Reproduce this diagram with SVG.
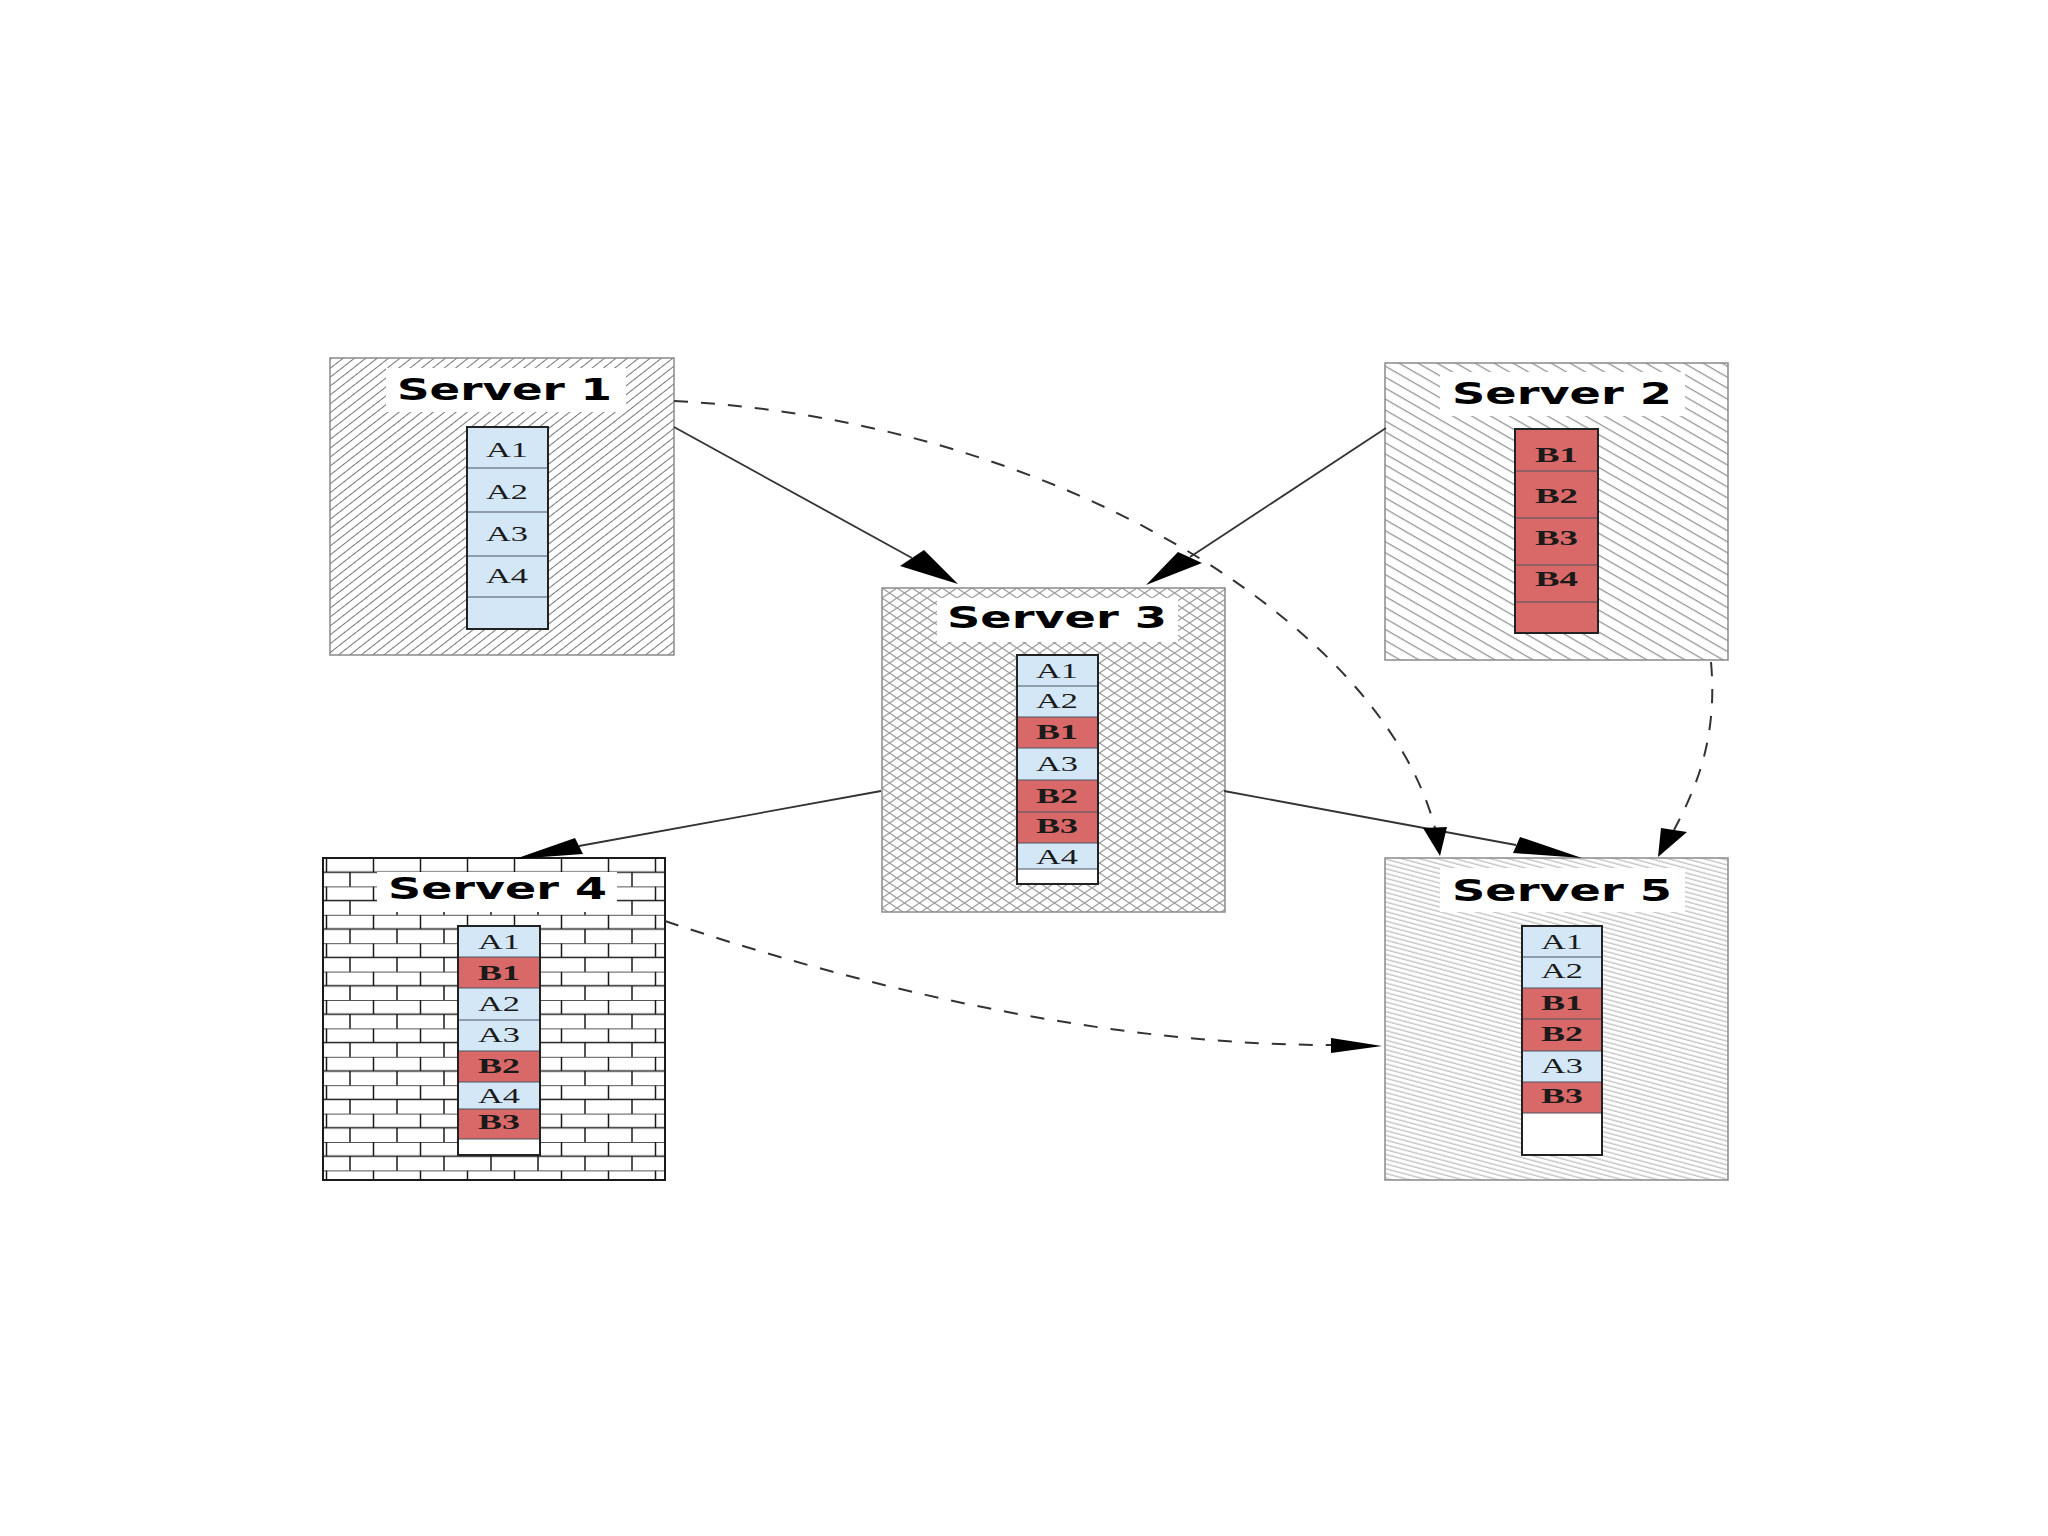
<svg xmlns="http://www.w3.org/2000/svg" width="2048" height="1536" viewBox="0 0 2048 1536">
<style>
.box{stroke:#8a8a8a;stroke-width:1.5}
.tbg{fill:#fff}
.title{font-family:"DejaVu Sans","Liberation Sans",sans-serif;font-weight:bold;font-size:31px;fill:#000}
.a{fill:#d3e7f7}
.b{fill:#d96868}
.e{fill:#fff}
.dv{stroke:#4a5560;stroke-width:1.2}
.stk{fill:none;stroke:#222;stroke-width:2}
.lbl{font-family:"Liberation Serif","Times New Roman",serif;font-size:21px;fill:#1a1a1a}
.lb{font-weight:bold}
.conn{fill:none;stroke:#333;stroke-width:1.8}
.dash{stroke-dasharray:14 13;stroke-width:2}
.ah{fill:#000}
</style>
<defs>
<pattern id="hatch1" width="12" height="7" patternUnits="userSpaceOnUse" patternTransform="rotate(-38)"><line x1="0" y1="3.5" x2="12" y2="3.5" stroke="#777" stroke-width="1"/></pattern>
<pattern id="hatch2" width="12" height="9.5" patternUnits="userSpaceOnUse" patternTransform="rotate(30)"><line x1="0" y1="4.5" x2="12" y2="4.5" stroke="#777" stroke-width="1"/></pattern>
<pattern id="hatch5" width="12" height="4.6" patternUnits="userSpaceOnUse" patternTransform="rotate(15)"><line x1="0" y1="2" x2="12" y2="2" stroke="#a0a0a0" stroke-width="0.9"/></pattern>
<pattern id="cross3" width="15" height="10" patternUnits="userSpaceOnUse" x="882" y="588"><path d="M0,0L15,10M15,0L0,10" stroke="#a0a0a0" stroke-width="1.3" fill="none"/></pattern>
<pattern id="brick4" width="47" height="28.4" patternUnits="userSpaceOnUse" x="350" y="858"><path d="M0,0H47M0,14.2H47M23.5,0V14.2M0,14.2V28.4M47,14.2V28.4" stroke="#1a1a1a" stroke-width="1.5" fill="none"/></pattern>
</defs>
<rect width="2048" height="1536" fill="#fff"/>

<g id="server1">
<rect class="box" x="330" y="358" width="344" height="297" fill="url(#hatch1)"/>
<rect class="tbg" x="386" y="368" width="240" height="44"/>
<text class="title" x="397" y="400" textLength="215" lengthAdjust="spacingAndGlyphs">Server 1</text>
<rect class="a" x="467" y="427" width="81" height="202"/>
<path class="dv" d="M467,468H548M467,512H548M467,556H548M467,597H548"/>
<rect class="stk" x="467" y="427" width="81" height="202"/>
<text class="lbl" x="486" y="457" textLength="42" lengthAdjust="spacingAndGlyphs">A1</text>
<text class="lbl" x="486" y="499" textLength="42" lengthAdjust="spacingAndGlyphs">A2</text>
<text class="lbl" x="486" y="541" textLength="42" lengthAdjust="spacingAndGlyphs">A3</text>
<text class="lbl" x="486" y="583" textLength="42" lengthAdjust="spacingAndGlyphs">A4</text>
</g>

<g id="server2">
<rect class="box" x="1385" y="363" width="343" height="297" fill="url(#hatch2)"/>
<rect class="tbg" x="1440" y="372" width="245" height="44"/>
<text class="title" x="1452" y="404" textLength="220" lengthAdjust="spacingAndGlyphs">Server 2</text>
<rect class="b" x="1515" y="429" width="83" height="204"/>
<path class="dv" d="M1515,471H1598M1515,518H1598M1515,565H1598M1515,602H1598"/>
<rect class="stk" x="1515" y="429" width="83" height="204"/>
<text class="lbl lb" x="1535" y="462" textLength="43" lengthAdjust="spacingAndGlyphs">B1</text>
<text class="lbl lb" x="1535" y="503" textLength="43" lengthAdjust="spacingAndGlyphs">B2</text>
<text class="lbl lb" x="1535" y="545" textLength="43" lengthAdjust="spacingAndGlyphs">B3</text>
<text class="lbl lb" x="1535" y="586" textLength="43" lengthAdjust="spacingAndGlyphs">B4</text>
</g>

<g id="server3">
<rect class="box" x="882" y="588" width="343" height="324" fill="url(#cross3)"/>
<rect class="tbg" x="937" y="598" width="241" height="44"/>
<text class="title" x="947" y="628" textLength="220" lengthAdjust="spacingAndGlyphs">Server 3</text>
<rect class="a" x="1017" y="655" width="81" height="31"/>
<rect class="a" x="1017" y="686" width="81" height="31"/>
<rect class="b" x="1017" y="717" width="81" height="31"/>
<rect class="a" x="1017" y="748" width="81" height="32"/>
<rect class="b" x="1017" y="780" width="81" height="32"/>
<rect class="b" x="1017" y="812" width="81" height="31"/>
<rect class="a" x="1017" y="843" width="81" height="26"/>
<rect class="e" x="1017" y="869" width="81" height="15"/>
<path class="dv" d="M1017,686H1098M1017,717H1098M1017,748H1098M1017,780H1098M1017,812H1098M1017,843H1098M1017,869H1098"/>
<rect class="stk" x="1017" y="655" width="81" height="229"/>
<text class="lbl" x="1036" y="678" textLength="42" lengthAdjust="spacingAndGlyphs">A1</text>
<text class="lbl" x="1036" y="708" textLength="42" lengthAdjust="spacingAndGlyphs">A2</text>
<text class="lbl lb" x="1036" y="739" textLength="42" lengthAdjust="spacingAndGlyphs">B1</text>
<text class="lbl" x="1036" y="771" textLength="42" lengthAdjust="spacingAndGlyphs">A3</text>
<text class="lbl lb" x="1036" y="803" textLength="42" lengthAdjust="spacingAndGlyphs">B2</text>
<text class="lbl lb" x="1036" y="833" textLength="42" lengthAdjust="spacingAndGlyphs">B3</text>
<text class="lbl" x="1036" y="864" textLength="42" lengthAdjust="spacingAndGlyphs">A4</text>
</g>

<g id="server4">
<rect x="323" y="858" width="342" height="322" fill="url(#brick4)" stroke="#1a1a1a" stroke-width="2"/>
<rect class="tbg" x="377" y="872" width="240" height="40"/>
<text class="title" x="388" y="899" textLength="219" lengthAdjust="spacingAndGlyphs">Server 4</text>
<rect class="a" x="458" y="926" width="82" height="31"/>
<rect class="b" x="458" y="957" width="82" height="31"/>
<rect class="a" x="458" y="988" width="82" height="32"/>
<rect class="a" x="458" y="1020" width="82" height="31"/>
<rect class="b" x="458" y="1051" width="82" height="31"/>
<rect class="a" x="458" y="1082" width="82" height="27"/>
<rect class="b" x="458" y="1109" width="82" height="30"/>
<rect class="e" x="458" y="1139" width="82" height="16"/>
<path class="dv" d="M458,957H540M458,988H540M458,1020H540M458,1051H540M458,1082H540M458,1109H540M458,1139H540"/>
<rect class="stk" x="458" y="926" width="82" height="229"/>
<text class="lbl" x="478" y="949" textLength="42" lengthAdjust="spacingAndGlyphs">A1</text>
<text class="lbl lb" x="478" y="980" textLength="42" lengthAdjust="spacingAndGlyphs">B1</text>
<text class="lbl" x="478" y="1011" textLength="42" lengthAdjust="spacingAndGlyphs">A2</text>
<text class="lbl" x="478" y="1042" textLength="42" lengthAdjust="spacingAndGlyphs">A3</text>
<text class="lbl lb" x="478" y="1073" textLength="42" lengthAdjust="spacingAndGlyphs">B2</text>
<text class="lbl" x="478" y="1103" textLength="42" lengthAdjust="spacingAndGlyphs">A4</text>
<text class="lbl lb" x="478" y="1129" textLength="42" lengthAdjust="spacingAndGlyphs">B3</text>
</g>

<g id="server5">
<rect class="box" x="1385" y="858" width="343" height="322" fill="url(#hatch5)"/>
<rect class="tbg" x="1440" y="868" width="245" height="44"/>
<text class="title" x="1452" y="901" textLength="220" lengthAdjust="spacingAndGlyphs">Server 5</text>
<rect class="a" x="1522" y="926" width="80" height="31"/>
<rect class="a" x="1522" y="957" width="80" height="31"/>
<rect class="b" x="1522" y="988" width="80" height="31"/>
<rect class="b" x="1522" y="1019" width="80" height="32"/>
<rect class="a" x="1522" y="1051" width="80" height="31"/>
<rect class="b" x="1522" y="1082" width="80" height="31"/>
<rect class="e" x="1522" y="1113" width="80" height="42"/>
<path class="dv" d="M1522,957H1602M1522,988H1602M1522,1019H1602M1522,1051H1602M1522,1082H1602M1522,1113H1602"/>
<rect class="stk" x="1522" y="926" width="80" height="229"/>
<text class="lbl" x="1541" y="949" textLength="42" lengthAdjust="spacingAndGlyphs">A1</text>
<text class="lbl" x="1541" y="978" textLength="42" lengthAdjust="spacingAndGlyphs">A2</text>
<text class="lbl lb" x="1541" y="1010" textLength="42" lengthAdjust="spacingAndGlyphs">B1</text>
<text class="lbl lb" x="1541" y="1041" textLength="42" lengthAdjust="spacingAndGlyphs">B2</text>
<text class="lbl" x="1541" y="1073" textLength="42" lengthAdjust="spacingAndGlyphs">A3</text>
<text class="lbl lb" x="1541" y="1103" textLength="42" lengthAdjust="spacingAndGlyphs">B3</text>
</g>

<g id="connectors">
<path class="conn" d="M674,427L912,558"/>
<polygon class="ah" points="958,584 900,566 924,550"/>
<path class="conn" d="M1386,428L1190,557"/>
<polygon class="ah" points="1146,585 1178,552 1202,563"/>
<path class="conn" d="M881,791L579,846"/>
<polygon class="ah" points="515,859 575,838 583,854"/>
<path class="conn" d="M1224,791L1516,845"/>
<polygon class="ah" points="1582,858 1520,837 1513,853"/>
<path class="conn dash" d="M674,401C1050,420 1380,620 1435,828"/>
<polygon class="ah" points="1440,856 1423,828 1447,827"/>
<path class="conn dash" d="M1711,662C1718,740 1695,790 1674,830"/>
<polygon class="ah" points="1658,857 1661,828 1687,832"/>
<path class="conn dash" d="M665,921C900,1000 1130,1045 1331,1045"/>
<polygon class="ah" points="1382,1046 1331,1038 1331,1053"/>
</g>
</svg>
